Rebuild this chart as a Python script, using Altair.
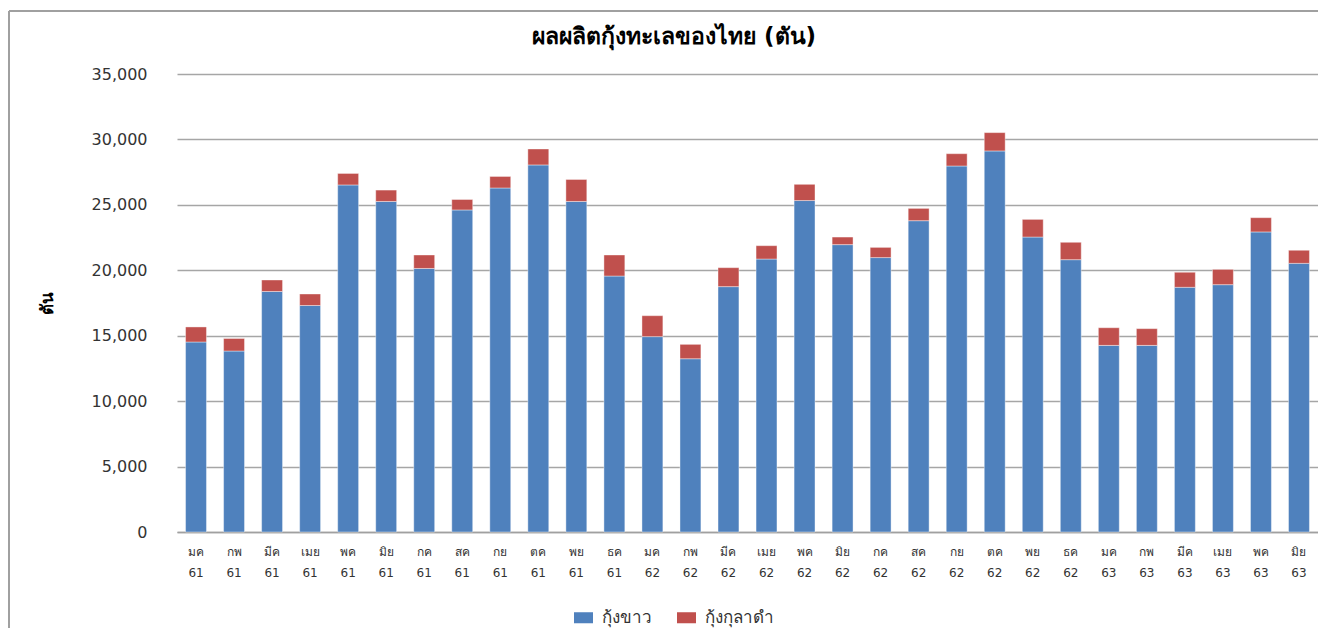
import altair as alt
import pandas as pd

TITLE = "ผลผลิตกุ้งทะเลของไทย (ตัน)"

months = ["มค", "กพ", "มีค", "เมย", "พค", "มิย", "กค", "สค", "กย", "ตค", "พย", "ธค",
          "มค", "กพ", "มีค", "เมย", "พค", "มิย", "กค", "สค", "กย", "ตค", "พย", "ธค",
          "มค", "กพ", "มีค", "เมย", "พค", "มิย"]
years = ["61"] * 12 + ["62"] * 12 + ["63"] * 6

white_shrimp = [14520, 13830, 18380, 17310, 26520, 25260, 20140, 24610, 26290, 28050, 25260, 19560,
                14930, 13240, 18750, 20860, 25330, 21960, 20970, 23790, 27970, 29120, 22540, 20810,
                14260, 14260, 18700, 18900, 22930, 20530]
tiger_shrimp = [1150, 960, 880, 880, 880, 870, 1030, 800, 880, 1220, 1680, 1610,
                1600, 1100, 1450, 1020, 1240, 580, 780, 940, 940, 1400, 1350, 1330,
                1350, 1280, 1150, 1170, 1090, 1000]

series = ["กุ้งขาว", "กุ้งกุลาดำ"]
colors = ["#4F81BD", "#C0504D"]

labels = [f"{m} {y}" for m, y in zip(months, years)]
rows = []
for lab, w, t in zip(labels, white_shrimp, tiger_shrimp):
    rows.append({"label": lab, "series": series[0], "value": w, "ord": 0})
    rows.append({"label": lab, "series": series[1], "value": t, "ord": 1})
df = pd.DataFrame(rows)

W, H = 1141, 458
PAD_L, PAD_T = 169, 66

bars = alt.Chart(df).mark_bar(stroke="#ffffff", strokeWidth=0.8, strokeOpacity=0.5).encode(
    x=alt.X("label:N", sort=labels, title=None,
            scale=alt.Scale(paddingInner=0.45, paddingOuter=0.225),
            axis=alt.Axis(labelExpr="split(datum.value, ' ')", labelAngle=0,
                          labelFontSize=12, labelColor="#333333", labelLineHeight=21,
                          labelBaseline="top", labelPadding=14, ticks=False,
                          domainColor="#A0A0A0", domainWidth=1.5, grid=False)),
    y=alt.Y("value:Q", stack="zero", title="ตัน",
            scale=alt.Scale(domain=[0, 35000], nice=False),
            axis=alt.Axis(values=list(range(0, 35001, 5000)), format=",d",
                          labelFontSize=16, labelColor="#333333", labelPadding=30,
                          ticks=False, tickSize=0, domain=False,
                          gridColor="#A6A6A6", gridWidth=1.5,
                          titleFontSize=17, titleFontWeight="bold", titleColor="#000000",
                          titleX=-130, titleY=H / 2, titleAngle=-90,
                          titleAlign="center", titleBaseline="middle")),
    color=alt.Color("series:N", sort=series,
                    scale=alt.Scale(domain=series, range=colors),
                    legend=alt.Legend(title=None, orient="none", direction="horizontal",
                                      legendX=397, legendY=534, padding=0,
                                      symbolType="M-1,-0.58L1,-0.58L1,0.58L-1,0.58Z",
                                      symbolSize=361, symbolStrokeWidth=0,
                                      labelFontSize=17, labelColor="#333333",
                                      labelOffset=9, columnPadding=25)),
    order=alt.Order("ord:Q"),
)

frame_left = alt.Chart(df).mark_rule(color="#A0A0A0", strokeWidth=2).encode(
    x=alt.value(-168), y=alt.value(-63), y2=alt.value(H + 100))
frame_top = alt.Chart(df).mark_rule(color="#A0A0A0", strokeWidth=2).encode(
    x=alt.value(-168), x2=alt.value(W + 20), y=alt.value(-63))

title_df = pd.DataFrame({"t": [TITLE]})
title_mark = alt.Chart(title_df).mark_text(
    fontSize=23, fontWeight="bold", color="#000000", align="center", baseline="alphabetic"
).encode(x=alt.value(674 - 177), y=alt.value(44 - 74), text="t:N")

chart = alt.layer(frame_left, frame_top, bars, title_mark).properties(
    width=W, height=H,
    autosize=alt.AutoSizeParams(type="none"),
    padding={"left": PAD_L, "top": PAD_T, "right": 0, "bottom": 96},
).configure(font="DejaVu Sans").configure_view(stroke=None)

chart.save("out.html", embed_options={"renderer": "svg", "actions": False})
